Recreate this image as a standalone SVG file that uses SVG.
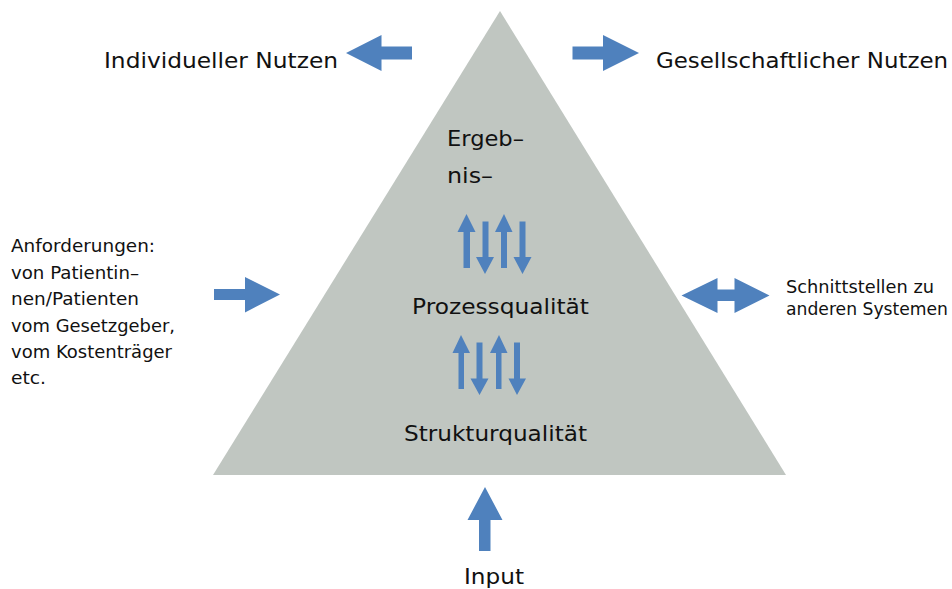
<svg xmlns="http://www.w3.org/2000/svg" width="952" height="589" viewBox="0 0 952 589">
<style>
.t{font-family:"DejaVu Sans","Liberation Sans",sans-serif;fill:#111}
.big{font-size:22px}
.sm{font-size:17.5px}
.ar{fill:#4f81bd}
</style>
<rect width="952" height="589" fill="#ffffff"/>
<g id="triangle">
<polygon points="500,11 213,475 786,475" fill="#c0c6c1"/>
</g>
<g id="connectors">
<polygon class="ar" points="346,53 381.5,35 381.5,46.5 412,46.5 412,59.5 381.5,59.5 381.5,71"/>
<polygon class="ar" points="639,53 603,35 603,46.5 572.5,46.5 572.5,59.5 603,59.5 603,71"/>
<polygon class="ar" points="280,294.5 245,277 245,289 214,289 214,300 245,300 245,312.5"/>
<polygon class="ar" points="681.5,295.5 717.5,278 717.5,289.5 734.5,289.5 734.5,278 769.5,295.5 734.5,313 734.5,301 717.5,301 717.5,313"/>
<polygon class="ar" points="485,487 502.5,520 490.5,520 490.5,551 479,551 479,520 467.5,520"/>
<polygon class="ar" points="466.5,214 475.5,232 470,232 470,268 463.5,268 463.5,232 457.5,232"/>
<polygon class="ar" points="485,274 494,257 488.5,257 488.5,221.5 482.5,221.5 482.5,257 476,257"/>
<polygon class="ar" points="504,214 512.5,232 507,232 507,268 501,268 501,232 495,232"/>
<polygon class="ar" points="522.5,274 531.5,257 525.5,257 525.5,221.5 519.5,221.5 519.5,257 513.5,257"/>
<polygon class="ar" points="461,335 470,353 464,353 464,389 458.5,389 458.5,353 452.5,353"/>
<polygon class="ar" points="479.5,395 488.5,378.5 482.5,378.5 482.5,342.5 476.5,342.5 476.5,378.5 470.5,378.5"/>
<polygon class="ar" points="499,335 507.5,353 501.5,353 501.5,389 496,389 496,353 490,353"/>
<polygon class="ar" points="517,395 526,378.5 520,378.5 520,342.5 514,342.5 514,378.5 508.5,378.5"/>
</g>
<g id="label-individuell"><text class="t big" x="104" y="68" textLength="234" lengthAdjust="spacingAndGlyphs">Individueller Nutzen</text></g>
<g id="label-gesellschaft"><text class="t big" x="656" y="68" textLength="292" lengthAdjust="spacingAndGlyphs">Gesellschaftlicher Nutzen</text></g>
<g id="label-ergebnis">
<text class="t big" x="447" y="146" textLength="77" lengthAdjust="spacingAndGlyphs">Ergeb–</text>
<text class="t big" x="447" y="183" textLength="46" lengthAdjust="spacingAndGlyphs">nis–</text>
</g>
<g id="label-prozess"><text class="t big" x="412" y="314" textLength="177" lengthAdjust="spacingAndGlyphs">Prozessqualität</text></g>
<g id="label-struktur"><text class="t big" x="404" y="441" textLength="183" lengthAdjust="spacingAndGlyphs">Strukturqualität</text></g>
<g id="label-input"><text class="t big" x="464" y="584" textLength="60" lengthAdjust="spacingAndGlyphs">Input</text></g>
<g id="label-anforderungen">
<text class="t sm" x="11" y="252" textLength="144" lengthAdjust="spacingAndGlyphs">Anforderungen:</text>
<text class="t sm" x="11" y="278.5" textLength="128" lengthAdjust="spacingAndGlyphs">von Patientin–</text>
<text class="t sm" x="11" y="305" textLength="128" lengthAdjust="spacingAndGlyphs">nen/Patienten</text>
<text class="t sm" x="11" y="331.5" textLength="164" lengthAdjust="spacingAndGlyphs">vom Gesetzgeber,</text>
<text class="t sm" x="11" y="358" textLength="161" lengthAdjust="spacingAndGlyphs">vom Kostenträger</text>
<text class="t sm" x="11" y="384" textLength="35" lengthAdjust="spacingAndGlyphs">etc.</text>
</g>
<g id="label-schnittstellen">
<text class="t sm" x="786" y="292.5" textLength="148" lengthAdjust="spacingAndGlyphs">Schnittstellen zu</text>
<text class="t sm" x="786" y="315" textLength="162" lengthAdjust="spacingAndGlyphs">anderen Systemen</text>
</g>
</svg>
